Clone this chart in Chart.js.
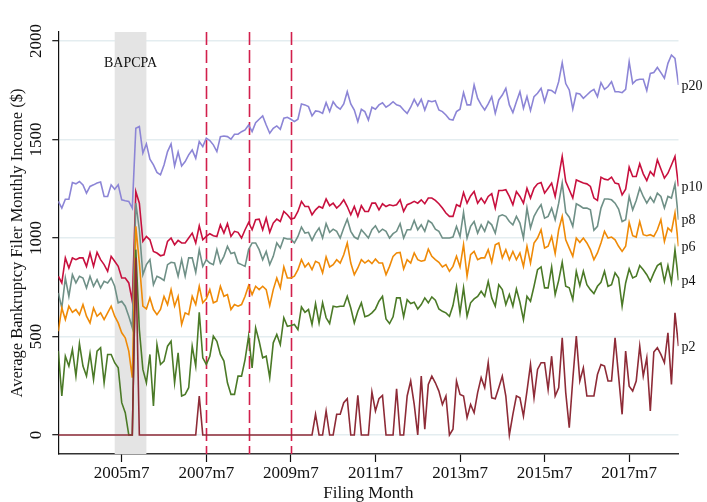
<!DOCTYPE html>
<html><head><meta charset="utf-8">
<script src="https://cdn.jsdelivr.net/npm/chart.js@4.4.1/dist/chart.umd.min.js"></script>
<style>html,body{margin:0;padding:0;background:#fff;}canvas{display:block;}</style>
</head><body>
<canvas id="c" width="707" height="502"></canvas>
<script>
const startMonth = '2004m1';

const p20 = [1186,1152,1197,1197,1282,1275,1287,1270,1228,1262,1270,1279,1284,1211,1211,1270,1248,1270,1194,1189,1186,1152,1557,1566,1431,1478,1400,1371,1333,1321,1371,1439,1478,1366,1437,1366,1388,1422,1447,1405,1490,1464,1507,1495,1473,1439,1515,1518,1515,1502,1527,1527,1540,1549,1574,1540,1586,1603,1620,
1574,1532,1557,1569,1552,1608,1613,1603,1591,1603,1681,1676,1667,1620,1645,1642,1633,1687,1642,1692,1667,1654,1681,1743,1681,1650,1591,1654,1642,1599,1664,1654,1676,1687,1664,1676,1692,1676,1671,1650,1633,1664,1704,1671,1704,1650,1697,1692,1697,1650,1642,1625,1603,1599,1642,1654,1738,1676,1676,
1777,1709,1676,1650,1681,1718,1633,1701,1726,1760,1676,1637,1692,1743,1659,1718,1647,1718,1735,1760,1692,1752,1749,1735,1794,1890,1784,1752,1655,1735,1731,1709,1726,1743,1755,1718,1789,1755,1769,1794,1743,1743,1738,1755,1895,1784,1801,1806,1806,1749,1836,1840,1866,1840,1811,1887,1929,1912,1777];

const p10 = [806,772,899,848,899,890,899,899,856,924,856,927,890,865,831,907,882,856,797,797,772,679,1236,1177,983,1008,991,932,924,910,915,983,1000,966,988,975,975,1000,1025,975,1062,991,1008,1022,1012,1008,1067,1025,1073,1008,1034,1029,1000,1042,1079,1042,1093,1096,1042,
1101,1029,1076,1096,1084,1135,1118,1096,1101,1135,1186,1160,1160,1118,1143,1160,1152,1198,1164,1177,1152,1169,1194,1160,1118,1160,1110,1164,1135,1135,1177,1177,1143,1174,1160,1169,1164,1169,1194,1135,1169,1177,1186,1177,1194,1174,1203,1203,1191,1174,1152,1127,1110,1110,1169,1160,1231,1177,1214,
1236,1177,1203,1177,1211,1225,1152,1241,1241,1245,1211,1169,1236,1211,1177,1253,1203,1253,1275,1282,1228,1253,1279,1211,1312,1414,1287,1245,1203,1295,1287,1279,1275,1262,1203,1191,1309,1299,1295,1309,1279,1275,1219,1248,1360,1312,1312,1377,1326,1292,1338,1316,1397,1350,1304,1329,1371,1414,1262];

const p8 = [721,645,797,704,814,772,806,797,747,806,755,789,747,780,772,797,755,671,679,654,603,544,1177,1042,814,865,890,763,806,797,785,865,877,873,806,890,806,899,899,826,941,856,890,873,865,941,873,907,958,921,927,873,865,856,941,975,975,941,890,
932,865,907,975,949,1000,995,995,975,1008,1056,1025,1029,988,1025,1051,1000,1073,1029,1045,1034,1000,1051,1096,1034,1005,995,1042,1022,1000,1042,1062,1029,1045,1034,1000,1022,1034,1073,1000,1042,1042,1089,1042,1067,1034,1089,1076,1045,1034,1000,1000,1000,1005,1059,1008,1130,1000,1059,
1084,1025,1067,1034,1084,1067,1025,1110,1118,1110,1084,1067,1110,1076,1000,1152,1051,1110,1143,1169,1101,1110,1152,1093,1177,1279,1130,1106,1059,1174,1164,1152,1152,1143,1039,1059,1152,1198,1198,1194,1177,1147,1084,1093,1211,1143,1191,1253,1211,1177,1208,1181,1228,1211,1152,1211,1203,1275,1093];

const p6 = [527,645,586,654,623,637,611,662,603,569,645,603,620,586,620,654,603,569,519,493,426,291,1059,873,654,640,696,637,611,637,704,662,738,654,704,561,620,611,704,662,755,671,691,738,671,679,755,704,713,637,662,654,662,704,758,713,755,738,755,
738,657,738,797,747,853,797,797,806,839,890,853,873,839,882,873,823,904,853,865,890,873,915,975,873,814,848,890,873,887,870,893,873,873,814,856,907,924,927,843,890,873,924,890,882,887,944,907,890,877,853,865,831,856,907,853,966,806,915,
932,890,899,899,941,877,966,975,899,941,890,932,890,924,856,958,873,975,1000,1042,949,958,1008,921,1042,1110,991,949,907,1000,978,1000,975,941,890,924,975,1034,1000,1005,991,958,932,958,1079,1012,1005,1084,1017,1012,1017,1008,1042,1093,983,1051,1034,1127,958];

const p4 = [426,198,400,350,434,299,464,350,299,414,282,426,443,265,409,409,367,341,164,113,0,0,941,535,333,265,409,147,459,358,375,451,476,265,417,198,206,240,451,350,623,392,358,400,502,476,409,375,265,206,206,299,299,383,502,341,544,476,392,
400,291,468,510,459,595,552,556,561,535,650,623,637,561,667,569,671,595,566,654,650,654,654,704,645,569,628,671,600,606,620,640,679,704,589,566,600,696,696,600,687,667,674,640,662,696,671,701,684,640,628,620,603,657,752,620,747,603,671,
691,704,730,704,780,696,654,763,738,662,713,654,741,674,586,704,679,755,839,853,747,747,853,713,785,877,755,747,687,831,758,831,763,738,718,755,775,831,755,763,823,797,654,772,843,797,806,860,839,814,780,823,860,873,780,860,775,941,785];

const p2 = [0,0,0,0,0,0,0,0,0,0,0,0,0,0,0,0,0,0,0,0,0,0,900,0,0,0,0,0,0,0,0,0,0,0,0,0,0,0,0,0,198,0,0,0,0,0,0,0,0,0,0,0,0,0,0,0,0,0,0,
0,0,0,0,0,0,0,0,0,0,0,0,0,0,105,0,0,122,0,0,105,105,164,184,0,0,201,0,0,0,218,122,184,201,0,0,0,235,0,0,198,274,155,0,299,29,257,299,265,223,155,198,0,29,274,206,198,88,155,
113,215,291,240,367,189,184,240,299,198,0,105,198,189,96,223,358,189,333,367,367,231,400,198,240,493,215,37,282,502,274,341,198,198,198,307,358,350,274,274,493,299,105,426,248,223,274,451,299,392,122,421,443,409,367,519,257,620,451];

const seriesNames = ['p2','p4','p6','p8','p10','p20'];
const seriesValues = [p2, p4, p6, p8, p10, p20];
const seriesColors = ['#8e2b37','#4b7a27','#ef8a07','#6f9087','#c8103e','#8c85d6'];

const xTickLabels = ['2005m7','2007m7','2009m7','2011m7','2013m7','2015m7','2017m7'];
const yTickValues = [0, 500, 1000, 1500, 2000];
const bapcpaWindow = ['2005m5', '2006m2'];
const policyMonths = ['2007m7', '2008m7', '2009m7'];

function toT(s) { const [y, m] = s.split('m').map(Number); return (y - 1960) * 12 + m - 1; }
function fromT(t) { const y = Math.floor(t / 12) + 1960; return y + 'm' + (t - (y - 1960) * 12 + 1); }
const t0 = toT(startMonth);
const months = p20.map((_, i) => fromT(t0 + i));

const serif = '"Liberation Serif", "Times New Roman", serif';

const overlay = {
  id: 'overlay',
  beforeDatasetsDraw(chart) {
    const {ctx, chartArea: a, scales: {x}} = chart;
    ctx.save();
    const x0 = x.getPixelForValue(toT(bapcpaWindow[0]));
    const x1 = x.getPixelForValue(toT(bapcpaWindow[1]));
    ctx.fillStyle = '#e4e4e4';
    ctx.fillRect(x0, a.top, x1 - x0, a.bottom - a.top);
    ctx.fillStyle = '#111';
    ctx.font = '14px ' + serif;
    ctx.textAlign = 'center';
    ctx.textBaseline = 'middle';
    ctx.fillText('BAPCPA', (x0 + x1) / 2, a.top + 31);
    ctx.strokeStyle = '#d21f4c';
    ctx.lineWidth = 1.6;
    ctx.setLineDash([13, 5]);
    policyMonths.forEach(m => {
      const px = Math.round(x.getPixelForValue(toT(m))) + 0.5;
      ctx.beginPath(); ctx.moveTo(px, a.top); ctx.lineTo(px, a.bottom); ctx.stroke();
    });
    ctx.restore();
  },
  afterDatasetsDraw(chart) {
    const {ctx} = chart;
    ctx.save();
    ctx.fillStyle = '#111';
    ctx.font = '14px ' + serif;
    ctx.textAlign = 'left';
    ctx.textBaseline = 'middle';
    chart.data.datasets.forEach((ds, i) => {
      const pts = chart.getDatasetMeta(i).data;
      const last = pts[pts.length - 1];
      ctx.fillText(ds.label, last.x + 3, last.y + 1);
    });
    ctx.restore();
  }
};

new Chart(document.getElementById('c'), {
  type: 'line',
  data: {
    datasets: seriesNames.map((n, i) => ({
      label: n,
      data: seriesValues[i].map((v, j) => ({x: toT(months[j]), y: v})),
      borderColor: seriesColors[i],
      backgroundColor: seriesColors[i],
      borderWidth: 1.6,
      pointRadius: 0,
      tension: 0,
      fill: false
    }))
  },
  options: {
    responsive: false,
    animation: false,
    devicePixelRatio: 1,
    layout: {padding: {left: 0, right: 28.5, top: 32, bottom: 0}},
    plugins: {legend: {display: false}, tooltip: {enabled: false}},
    scales: {
      x: {
        type: 'linear',
        min: toT(months[0]),
        max: toT(months[months.length - 1]),
        afterBuildTicks: s => { s.ticks = xTickLabels.map(l => ({value: toT(l)})); },
        afterFit: s => { s.height = 48; },
        ticks: {
          autoSkip: false, maxRotation: 0, minRotation: 0, padding: 1,
          color: '#111', font: {family: serif, size: 17},
          callback: v => fromT(v)
        },
        grid: {drawOnChartArea: false, drawTicks: true, tickLength: 8, tickColor: '#111', tickWidth: 1.2},
        border: {display: true, color: '#333', width: 1.4},
        title: {display: true, text: 'Filing Month', color: '#111', font: {family: serif, size: 17, lineHeight: 1}, padding: {top: 0, bottom: 0}}
      },
      y: {
        type: 'linear',
        min: -96.5,
        max: 2046,
        afterBuildTicks: s => { s.ticks = yTickValues.map(v => ({value: v})); },
        afterFit: s => { s.width = 58.3; },
        ticks: {
          minRotation: 90, maxRotation: 90, crossAlign: 'center', padding: -1,
          color: '#111', font: {family: serif, size: 17},
          callback: v => String(v)
        },
        grid: {color: '#e4edf0', lineWidth: 1.4, drawTicks: true, tickLength: 6, tickColor: '#111', tickWidth: 1.2},
        border: {display: true, color: '#111', width: 1.2},
        title: {display: true, text: 'Average Bankruptcy Filer Monthly Income ($)', color: '#111', font: {family: serif, size: 16.5, lineHeight: 1}, padding: {top: 9, bottom: 0}}
      }
    }
  },
  plugins: [overlay]
});
</script>
</body></html>
